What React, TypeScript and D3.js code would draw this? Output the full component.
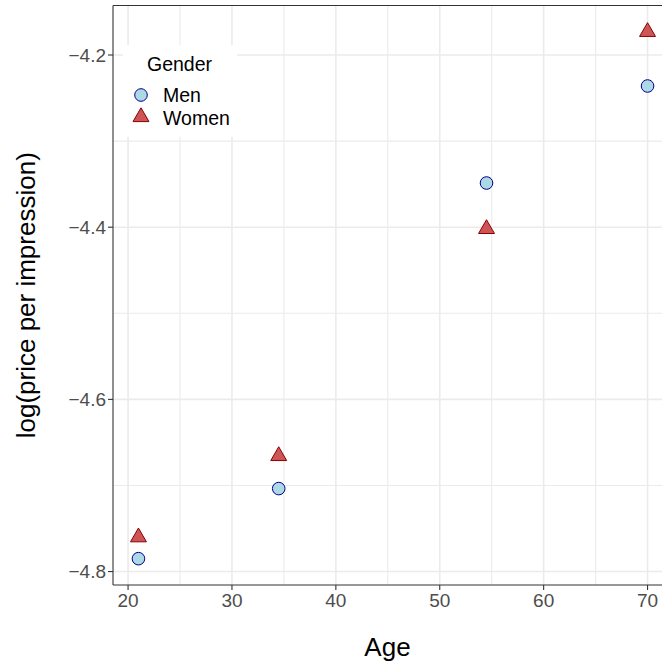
import React from "react";
import * as d3 from "d3";

const ages = [21, 34.5, 54.5, 70];
const menValues = [-4.785, -4.7036, -4.3487, -4.236];
const womenValues = [-4.7601, -4.6657, -4.402, -4.1731];
const xTicks = [20, 30, 40, 50, 60, 70];
const xMinor = [25, 35, 45, 55, 65];
const yTicks = [-4.8, -4.6, -4.4, -4.2];
const yMinor = [-4.7, -4.5, -4.3];
const legendLabels = ["Men", "Women"];

const W = 662;
const H = 663;
const left = 113;
const right = 673;
const top = 5.5;
const bottom = 585;
const font = "'Liberation Sans', Arial, Helvetica, sans-serif";

export default function App() {
  const xExt = d3.extent(ages) as [number, number];
  const allY = [...menValues, ...womenValues];
  const yExt = d3.extent(allY) as [number, number];
  const xPad = (xExt[1] - xExt[0]) * 0.05;
  const yPad = (yExt[1] - yExt[0]) * 0.05;
  const x = d3.scaleLinear().domain([xExt[0] - xPad, xExt[1] + xPad]).range([left, right]);
  const y = d3.scaleLinear().domain([yExt[0] - yPad, yExt[1] + yPad]).range([bottom, top]);
  const tri = d3.symbol().type(d3.symbolTriangle).size(110)();
  const fmt = (v: number) => (v < 0 ? "\u2212" : "") + Math.abs(v).toFixed(1);

  return (
    <svg width={W} height={H} style={{ position: "absolute", left: 0, top: 0, display: "block" }}>
      <rect x={0} y={0} width={W} height={H} fill="white" />
      <g>
        {xMinor.map((v) => (
          <line key={"xm" + v} x1={x(v)} x2={x(v)} y1={top} y2={bottom} stroke="#ebebeb" strokeWidth={1.1} />
        ))}
        {yMinor.map((v) => (
          <line key={"ym" + v} x1={left} x2={right} y1={y(v)} y2={y(v)} stroke="#ebebeb" strokeWidth={1.1} />
        ))}
        {xTicks.map((v) => (
          <line key={"xg" + v} x1={x(v)} x2={x(v)} y1={top} y2={bottom} stroke="#ebebeb" strokeWidth={1.6} />
        ))}
        {yTicks.map((v) => (
          <line key={"yg" + v} x1={left} x2={right} y1={y(v)} y2={y(v)} stroke="#ebebeb" strokeWidth={1.6} />
        ))}
      </g>
      {/* panel border */}
      <line x1={left} x2={right} y1={top} y2={top} stroke="#333333" strokeWidth={1.1} />
      <line x1={left} x2={left} y1={top} y2={bottom} stroke="#333333" strokeWidth={1.1} />
      <line x1={left} x2={right} y1={bottom} y2={bottom} stroke="#333333" strokeWidth={1.1} />
      {/* ticks */}
      {xTicks.map((v) => (
        <g key={"xt" + v}>
          <line x1={x(v)} x2={x(v)} y1={bottom} y2={bottom + 5} stroke="#333333" strokeWidth={1.1} />
          <text x={x(v)} y={bottom + 22} textAnchor="middle" fontFamily={font} fontSize={19} fill="#4d4d4d">
            {v}
          </text>
        </g>
      ))}
      {yTicks.map((v) => (
        <g key={"yt" + v}>
          <line x1={left - 5} x2={left} y1={y(v)} y2={y(v)} stroke="#333333" strokeWidth={1.1} />
          <text x={left - 7} y={y(v) + 6.8} textAnchor="end" fontFamily={font} fontSize={19} fill="#4d4d4d">
            {fmt(v)}
          </text>
        </g>
      ))}
      {/* points */}
      {ages.map((a, i) => (
        <circle key={"m" + i} cx={x(a)} cy={y(menValues[i])} r={6.3} fill="#add8e6" stroke="#00008b" strokeWidth={1} />
      ))}
      {ages.map((a, i) => (
        <path key={"w" + i} d={tri || ""} transform={`translate(${x(a)},${y(womenValues[i])})`} fill="#cd5555" stroke="#8b0000" strokeWidth={1} />
      ))}
      {/* legend */}
      <rect x={123} y={45} width={114} height={92} fill="white" />
      <text x={147} y={71} fontFamily={font} fontSize={19.5} fill="#000">Gender</text>
      <circle cx={141} cy={95} r={6.3} fill="#add8e6" stroke="#00008b" strokeWidth={1} />
      <text x={163} y={102} fontFamily={font} fontSize={19.5} fill="#000">{legendLabels[0]}</text>
      <path d={tri || ""} transform="translate(141,117)" fill="#cd5555" stroke="#8b0000" strokeWidth={1} />
      <text x={163} y={124.5} fontFamily={font} fontSize={19.5} fill="#000">{legendLabels[1]}</text>
      {/* axis titles */}
      <text x={(left + 662) / 2} y={656} textAnchor="middle" fontFamily={font} fontSize={26} fill="#000">Age</text>
      <text transform={`translate(34.5,${(top + bottom) / 2}) rotate(-90)`} textAnchor="middle" fontFamily={font} fontSize={26} fill="#000">
        log(price per impression)
      </text>
    </svg>
  );
}
